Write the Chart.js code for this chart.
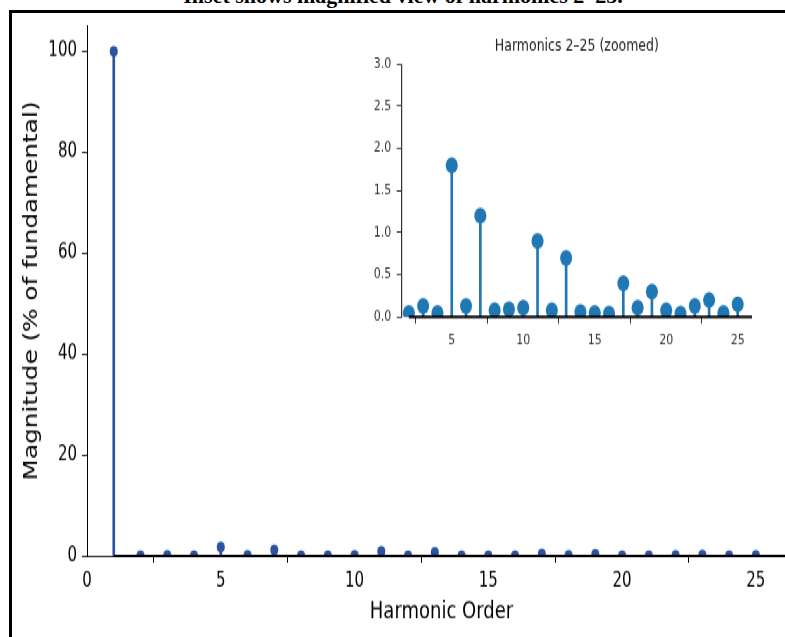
<!DOCTYPE html>
<html lang="en">
<head>
<meta charset="UTF-8">
<title>Harmonic Spectrum</title>
<script src="https://cdn.jsdelivr.net/npm/chart.js"></script>
<style>
  html, body { margin: 0; padding: 0; background: #fff; overflow: hidden; }
  body { width: 785px; height: 637px; position: relative; }
  #caption {
    position: absolute; left: 0; top: -15px; width: 806px; text-align: center;
    font: bold 22px 'Liberation Serif', 'DejaVu Serif', serif; line-height: 22px;
    color: #000; white-space: nowrap;
  }
  #frame {
    position: absolute; left: 9px; top: 10px; width: 820px; height: 700px;
    border-left: 3px solid #000; border-top: 3px solid #000;
  }
  /* the figure in the reference is stretched vertically */
  #stage {
    position: absolute; left: 0; top: 0; width: 800px; height: 479px;
    transform: scaleY(1.33); transform-origin: 0 0;
  }
  #mainChart { position: absolute; left: 0; top: 0; }
  #insetChart { position: absolute; left: 355px; top: 20px; }
</style>
</head>
<body>
<div id="caption">Inset shows magnified view of harmonics 2–25.</div>
<div id="frame"></div>
<div id="stage">
  <canvas id="mainChart" width="800" height="479"></canvas>
  <canvas id="insetChart" width="415" height="245"></canvas>
</div>

<script>
// Harmonic magnitudes, % of fundamental
const harmonicOrder = [1, 2, 3, 4, 5, 6, 7, 8, 9, 10, 11, 12, 13, 14, 15, 16, 17, 18, 19, 20, 21, 22, 23, 24, 25];
const magnitudePct = [100, 0.05, 0.13, 0.05, 1.8, 0.13, 1.2, 0.08, 0.09, 0.11, 0.9, 0.08, 0.7, 0.06, 0.05, 0.04, 0.4, 0.11, 0.3, 0.08, 0.04, 0.13, 0.2, 0.05, 0.15];

// inset shows harmonics 2-25
const insetOrder = harmonicOrder.slice(1);
const insetMagnitude = magnitudePct.slice(1);

const mainXTicks = [0, 5, 10, 15, 20, 25];
const mainYTicks = [0, 20, 40, 60, 80, 100];
const insetXTicks = [5, 10, 15, 20, 25];
const insetYTicks = [0, 0.5, 1.0, 1.5, 2.0, 2.5, 3.0];

const mainXMax = 26.5;
const insetXMax = 26;

const mainBlue = '#2c53a0';
const insetBlue = '#1f77b4';

Chart.defaults.font.family = "'DejaVu Sans', sans-serif";

function points(xs, ys) {
    return xs.map((x, i) => ({ x: x, y: ys[i] }));
}

function fixedTicks(list) {
    return function(scale) {
        scale.ticks = list.map(v => ({ value: v }));
    };
}

// Main stem plot
new Chart(document.getElementById('mainChart'), {
    type: 'scatter',
    data: {
        datasets: [
            {
                // baseline
                type: 'line',
                data: [{ x: harmonicOrder[0], y: 0 }, { x: mainXMax, y: 0 }],
                borderColor: '#000',
                borderWidth: 2,
                pointRadius: 0,
                clip: false,
                order: 0
            },
            {
                type: 'scatter',
                data: points(harmonicOrder, magnitudePct),
                backgroundColor: mainBlue,
                borderWidth: 0,
                pointRadius: 4,
                clip: 0,
                order: 1
            },
            {
                type: 'bar',
                data: points(harmonicOrder, magnitudePct),
                backgroundColor: mainBlue,
                barThickness: 2,
                order: 2
            }
        ]
    },
    options: {
        responsive: false,
        animation: false,
        events: [],
        layout: { padding: { top: 19.5, left: 0, right: 0, bottom: 0 } },
        plugins: {
            legend: { display: false },
            tooltip: { enabled: false }
        },
        scales: {
            x: {
                type: 'linear',
                min: 0,
                max: mainXMax,
                offset: false,
                afterBuildTicks: fixedTicks(mainXTicks),
                afterFit: function(scale) { scale.height = 61; },
                grid: { drawOnChartArea: false, tickLength: 5, color: '#000' },
                border: { color: '#000', width: 1 },
                ticks: { padding: 5, color: '#000', maxRotation: 0, autoSkip: false, font: { size: 15 } },
                title: {
                    display: true,
                    text: 'Harmonic Order',
                    color: '#000',
                    font: { size: 18 },
                    padding: { top: 0, bottom: 8 }
                }
            },
            y: {
                type: 'linear',
                min: 0,
                max: 105,
                afterBuildTicks: fixedTicks(mainYTicks),
                afterFit: function(scale) { scale.width = 87; },
                grid: { drawOnChartArea: false, tickLength: 5, color: '#000' },
                border: { color: '#000', width: 1 },
                ticks: { padding: 5, color: '#000', font: { size: 15 } },
                title: {
                    display: true,
                    text: 'Magnitude (% of fundamental)',
                    color: '#000',
                    font: { size: 18.6 },
                    padding: { top: 21, bottom: 0 }
                }
            }
        }
    }
});

// Inset: harmonics 2-25 zoomed
new Chart(document.getElementById('insetChart'), {
    type: 'scatter',
    data: {
        datasets: [
            {
                type: 'line',
                data: [{ x: insetOrder[0], y: 0 }, { x: insetXMax, y: 0 }],
                borderColor: '#000',
                borderWidth: 2,
                pointRadius: 0,
                clip: false,
                order: 0
            },
            {
                type: 'scatter',
                data: points(insetOrder, insetMagnitude),
                backgroundColor: insetBlue,
                borderWidth: 0,
                pointRadius: 6,
                clip: 0,
                order: 1
            },
            {
                type: 'bar',
                data: points(insetOrder, insetMagnitude),
                backgroundColor: insetBlue,
                barThickness: 2,
                order: 2
            }
        ]
    },
    options: {
        responsive: false,
        animation: false,
        events: [],
        layout: { padding: { top: 0, left: 0, right: 18, bottom: 0 } },
        plugins: {
            legend: { display: false },
            tooltip: { enabled: false },
            title: {
                display: true,
                text: 'Harmonics 2–25 (zoomed)',
                color: '#222',
                fullSize: false,
                font: { size: 12.5, weight: 'normal' },
                padding: { top: 6.8, bottom: 6.3 }
            }
        },
        scales: {
            x: {
                type: 'linear',
                min: 1.5,
                max: insetXMax,
                offset: false,
                afterBuildTicks: fixedTicks(insetXTicks),
                afterFit: function(scale) { scale.height = 26.7; },
                grid: { drawOnChartArea: false, tickLength: 5, color: '#333' },
                border: { display: false },
                ticks: { padding: 6.5, color: '#333', maxRotation: 0, autoSkip: false, font: { size: 11 } }
            },
            y: {
                type: 'linear',
                min: 0,
                max: 3,
                afterBuildTicks: fixedTicks(insetYTicks),
                afterFit: function(scale) { scale.width = 46.7; },
                grid: { drawOnChartArea: false, tickLength: 5, color: '#333' },
                border: { color: '#333', width: 1.2 },
                ticks: {
                    padding: 5.5,
                    color: '#333',
                    font: { size: 11 },
                    callback: function(v) { return Number(v).toFixed(1); }
                }
            }
        }
    }
});
</script>
</body>
</html>
